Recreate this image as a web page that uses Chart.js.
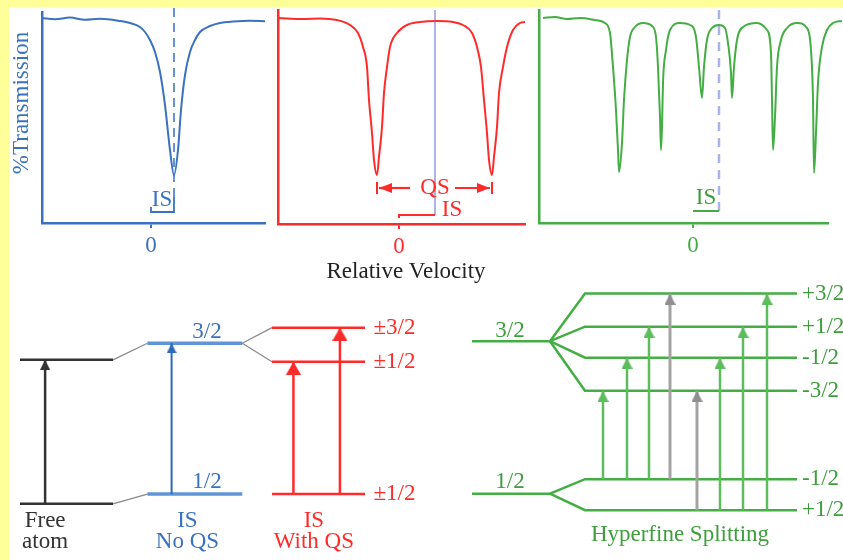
<!DOCTYPE html>
<html>
<head>
<meta charset="utf-8">
<script src="https://cdn.jsdelivr.net/npm/chart.js@4.4.1/dist/chart.umd.min.js"></script>
<style>
html,body{margin:0;padding:0;background:#ffff99;}
#stage{position:relative;width:843px;height:560px;overflow:hidden;background:#ffff99;}
#paper{position:absolute;left:9px;top:7px;right:0;bottom:0;background:#ffffff;}
canvas{position:absolute;left:0;top:0;}
</style>
</head>
<body>
<div id="stage">
  <div id="paper"></div>
  <canvas id="specBlue" width="843" height="560"></canvas>
  <canvas id="specRed" width="843" height="560"></canvas>
  <canvas id="specGreen" width="843" height="560"></canvas>
  <canvas id="levelsLeft" width="843" height="560"></canvas>
  <canvas id="levelsRight" width="843" height="560"></canvas>
</div>
<script>
// ---------------- DATA ----------------
// velocity (arbitrary mm/s-like units) and % transmission
const blueVelocity = [-5.45,-4.8,-4.05,-3.3,-2.55,-1.55,-1.05,-0.55,-0.3,-0.05,0.2,0.45,0.7,0.95,1.15,1.35,1.5,1.7,1.95,2.2,2.45,2.95,3.45,4.1,4.95,5.7];
const blueTransmission = [100,99.4,100.2,99.1,99.6,98.5,97.5,95.5,93,89,83,73,56.5,34,21.5,34,54,71.5,83,89,93,96,97.5,98.2,98.6,98.4];

const redVelocity = [-6.05,-5.4,-4.8,-3.95,-3.1,-2.45,-2.05,-1.8,-1.6,-1.5,-1.35,-1.25,-1.1,-1.0,-0.85,-0.75,-0.6,-0.45,-0.1,0.4,1.05,1.9,2.7,3.2,3.65,3.9,4.1,4.25,4.4,4.5,4.65,4.75,4.9,5.0,5.2,5.4,5.7,6.05,6.3];
const redTransmission = [100,99.6,99.5,99.8,99,96.5,92.5,85.5,75.5,59,42.5,29,21.5,30.5,45.5,62.5,75.5,85.5,92.5,96.5,98,98.5,98,96.5,92.5,85.5,75.5,59,42.5,29,21.5,30.5,45.5,62.5,75.5,85.5,94,97.5,98];

const greenVelocity = [-7.5,-6.9,-6.3,-5.65,-4.9,-4.4,-4.15,-4.0,-3.85,-3.75,-3.7,-3.55,-3.45,-3.3,-3.15,-2.9,-2.5,-2.05,-1.85,-1.75,-1.65,-1.6,-1.55,-1.5,-1.35,-1.15,-0.65,-0.15,0.15,0.3,0.45,0.55,0.7,0.95,1.3,1.6,1.75,1.9,1.95,2.05,2.2,2.5,3.2,3.7,3.9,3.95,4.0,4.1,4.2,4.4,4.7,5.2,5.7,5.9,6.0,6.05,6.15,6.25,6.45,6.7,7.0,7.45];
const greenTransmission = [100,100.5,99.5,100,99,97.5,92.5,75.5,54,34,23,37.5,59,79,90.5,95.5,97.5,96,90.5,75.5,50.5,34,45.5,67.5,84,94,97.5,96.5,90.5,75.5,60,75.5,89,95,96.5,95,87.5,72.5,60,75.5,89,95.5,97.5,94,82.5,59,34,50.5,75.5,89,95,97.5,95,84,59,22.5,42.5,67.5,85.5,94,97.5,98.5];

const velocityTicks = [0];
const tickLabels = ['0'];

// isomer shifts / quadrupole splitting (velocity units)
const isomerShift = [1.15, 1.8, 1.3];          // blue, red, green panels
const quadrupoleLines = [-1.1, 4.65];          // red doublet positions

// energy levels (arbitrary energy units)
const freeAtomLevels = [0, 14.8];              // ground, excited
const noQSLevels = [1.0, 16.5];                // 1/2, 3/2
const noQSLabels = ['1/2', '3/2'];
const withQSLevels = [1.0, 14.6, 18.1];        // ground ±1/2, excited ±1/2, excited ±3/2
const withQSLabels = ['±1/2', '±1/2', '±3/2'];
const hfUnsplitLevels = [16.7, 1.0];           // 3/2, 1/2
const hfUnsplitLabels = ['3/2', '1/2'];
const hfExcitedLevels = [21.6, 18.2, 15.0, 11.6];
const hfExcitedLabels = ['+3/2', '+1/2', '-1/2', '-3/2'];
const hfGroundLevels = [2.5, -0.7];
const hfGroundLabels = ['-1/2', '+1/2'];
const hfTransitionFrom = [0, 0, 0, 0, 1, 1, 1, 1];   // index into hfGroundLevels
const hfTransitionTo = [3, 2, 1, 0, 3, 2, 1, 0];     // index into hfExcitedLevels
const hfTransitionAllowed = [true, true, true, false, false, true, true, true];

// ---------------- STYLE / LAYOUT ----------------
const FONT = '"Liberation Serif","Times New Roman",serif';
const FS = 23;
const BLUE = '#3a72c0', BLUE_LEVEL = '#5f95d6';
const RED = '#ff2b2b';
const GREEN = '#44ad44', GREEN_LIGHT = '#5cbd5c', GREEN_TEXT = '#3e9e3e';
const GRAY = '#a3a3a3', CONNECT = '#8a8a8a', BLACK = '#333333';
const LAVENDER = '#aab4e8';
const W = 843, H = 560;

function arrowHead(color, width, length) {
  const c = document.createElement('canvas');
  c.width = width; c.height = length * 2;
  const g = c.getContext('2d');
  g.fillStyle = color;
  g.beginPath();
  g.moveTo(width / 2, length);
  g.lineTo(width, length * 2);
  g.lineTo(0, length * 2);
  g.closePath();
  g.fill();
  return c;
}

const textPlugin = {
  id: 'textMarks',
  afterDatasetsDraw(chart, args, opts) {
    const items = opts.items || [];
    const ctx = chart.ctx;
    const xs = chart.scales.x, ys = chart.scales.y;
    items.forEach(it => {
      const px = xs.getPixelForValue(it.x), py = ys.getPixelForValue(it.y);
      ctx.save();
      ctx.font = (it.size || FS) + 'px ' + FONT;
      ctx.fillStyle = it.color;
      ctx.textAlign = it.align || 'center';
      ctx.textBaseline = 'middle';
      ctx.translate(px, py);
      if (it.rotation) ctx.rotate(it.rotation * Math.PI / 180);
      ctx.fillText(it.text, 0, 0);
      ctx.restore();
    });
  }
};

function fixed(min, max) { return s => { s.min = min; s.max = max; }; }

function seg(x1, y1, x2, y2, color, width, extra) {
  return Object.assign({
    data: [{x: x1, y: y1}, {x: x2, y: y2}],
    borderColor: color, borderWidth: width, pointRadius: 0,
    tension: 0, clip: false, borderCapStyle: 'butt'
  }, extra || {});
}
function poly(points, color, width, extra) {
  return Object.assign({
    data: points, borderColor: color, borderWidth: width, pointRadius: 0,
    tension: 0, clip: false
  }, extra || {});
}
function arrow(x, y1, y2, color, width, head) {
  return seg(x, y1, x, y2, color, width, {
    pointStyle: head, pointRadius: [0, 5], pointRotation: 0
  });
}
function hArrow(x1, x2, y, color, width, head, dir) {
  return seg(x1, y, x2, y, color, width, {
    pointStyle: head, pointRadius: [0, 5], pointRotation: dir
  });
}

const AXIS_H = 40;
function spectrum(id, p) {
  const bottomPad = H - p.bottom - p.axisH;
  return new Chart(document.getElementById(id), {
    type: 'line',
    data: { datasets: p.datasets },
    options: {
      responsive: false, animation: false, events: [],
      layout: { padding: { left: p.left, right: W - p.right, top: p.top, bottom: bottomPad } },
      scales: {
        x: {
          type: 'linear', bounds: 'data',
          afterDataLimits: fixed(p.xmin, p.xmax),
          afterBuildTicks: s => { s.ticks = velocityTicks.map(v => ({value: v})); },
          afterFit: s => { s.height = p.axisH; },
          ticks: { color: p.color, font: {family: FONT, size: FS}, padding: 4,
                   callback: (v, i) => tickLabels[i], maxRotation: 0, autoSkip: false },
          grid: { display: true, drawOnChartArea: false, drawTicks: true, tickLength: 5, color: p.color, lineWidth: 2 },
          border: { display: true, color: p.color, width: 2.5 }
        },
        y: {
          type: 'linear', bounds: 'data',
          afterDataLimits: fixed(p.ymin, p.ymax),
          afterFit: s => { s.width = 0; },
          ticks: { display: false }, grid: { display: false },
          border: { display: true, color: p.color, width: 2.5 }
        }
      },
      plugins: { legend: {display: false}, tooltip: {enabled: false}, textMarks: { items: p.texts } }
    },
    plugins: [textPlugin]
  });
}

function curve(vel, trans, color) {
  return {
    data: vel.map((v, i) => ({x: v, y: trans[i]})),
    borderColor: color, borderWidth: 2, pointRadius: 0,
    cubicInterpolationMode: 'monotone', clip: false
  };
}

// ---- Blue: single line (isomer shift only)
spectrum('specBlue', {
  left: 42, right: 265, top: 12, bottom: 223, axisH: AXIS_H,
  xmin: -5.45, xmax: 5.7, ymin: -2.5, ymax: 103, color: BLUE,
  datasets: [
    curve(blueVelocity, blueTransmission, BLUE),
    seg(isomerShift[0], 105, isomerShift[0], 10.5, BLUE, 1.5, {borderDash: [9, 6]}),
    poly([{x: 0, y: 5.5}, {x: 0, y: 3}, {x: isomerShift[0], y: 3}, {x: isomerShift[0], y: 10.5}], BLUE, 1.8)
  ],
  texts: [
    {x: 0.55, y: 9, text: 'IS', color: BLUE},
    {x: -6.45, y: 57.5, text: '%Transmission', color: BLUE, rotation: -90}
  ]
});

// ---- Red: quadrupole doublet
const qsHead = arrowHead(RED, 10, 13);
spectrum('specRed', {
  left: 278, right: 525, top: 10, bottom: 224, axisH: 61,
  xmin: -6.05, xmax: 6.3, ymin: -3, ymax: 104, color: RED,
  datasets: [
    hArrow(0.55, -1.0, 15, RED, 2.2, qsHead, -90),
    hArrow(2.8, 4.55, 15, RED, 2.2, qsHead, 90),
    seg(quadrupoleLines[0], 18, quadrupoleLines[0], 12, RED, 2),
    seg(quadrupoleLines[1], 18, quadrupoleLines[1], 12, RED, 2),
    poly([{x: 0, y: 0}, {x: 0, y: 1.5}, {x: isomerShift[1], y: 1.5}], RED, 2),
    curve(redVelocity, redTransmission, RED),
    seg(isomerShift[1], 104, isomerShift[1], 1.5, LAVENDER, 2)
  ],
  texts: [
    {x: 1.8, y: 15, text: 'QS', color: RED},
    {x: 2.65, y: 4, text: 'IS', color: RED},
    {x: 0.35, y: -27, text: 'Relative Velocity', color: '#222222'}
  ]
});

// ---- Green: magnetic sextet
spectrum('specGreen', {
  left: 539, right: 828, top: 10, bottom: 223, axisH: AXIS_H,
  xmin: -7.7, xmax: 6.75, ymin: -2.5, ymax: 104, color: GREEN,
  datasets: [
    curve(greenVelocity, greenTransmission, GREEN),
    seg(0, 3.5, isomerShift[2], 3.5, GREEN, 2),
    seg(isomerShift[2], 104, isomerShift[2], 3.5, LAVENDER, 2.5, {borderDash: [9, 7]})
  ],
  texts: [
    {x: 0.65, y: 10, text: 'IS', color: GREEN_TEXT}
  ]
});

// ---- Bottom left: free atom / IS no QS / IS with QS
const COL_FREE = [0, 1], COL_NOQS = [1.37, 2.39], COL_WQS = [2.71, 3.71];
const headBlack = arrowHead(BLACK, 10, 10);
const headBlue = arrowHead('#2f68b8', 10, 10);
const headRed = arrowHead(RED, 15, 13);
const LBL_OFF = 1.2;

function levelChart(id, p) {
  return new Chart(document.getElementById(id), {
    type: 'line',
    data: { datasets: p.datasets },
    options: {
      responsive: false, animation: false, events: [],
      layout: { padding: { left: p.left, right: W - p.right, top: p.top, bottom: H - p.bottom } },
      scales: {
        x: { type: 'linear', display: false, bounds: 'data', afterDataLimits: fixed(p.xmin, p.xmax) },
        y: { type: 'linear', display: false, bounds: 'data', afterDataLimits: fixed(p.ymin, p.ymax) }
      },
      plugins: { legend: {display: false}, tooltip: {enabled: false}, textMarks: { items: p.texts } }
    },
    plugins: [textPlugin]
  });
}

levelChart('levelsLeft', {
  left: 20, right: 392, top: 280, bottom: 560,
  xmin: 0, xmax: 4, ymin: -5, ymax: 23,
  datasets: [
    arrow(0.27, freeAtomLevels[0], freeAtomLevels[1], BLACK, 2.5, headBlack),
    arrow(1.63, noQSLevels[0], noQSLevels[1], '#2f68b8', 2, headBlue),
    arrow(2.94, withQSLevels[0], withQSLevels[1], RED, 2.5, headRed),
    arrow(3.44, withQSLevels[0], withQSLevels[2], RED, 2.5, headRed),
    seg(COL_FREE[0], freeAtomLevels[0], COL_FREE[1], freeAtomLevels[0], BLACK, 2.5),
    seg(COL_FREE[0], freeAtomLevels[1], COL_FREE[1], freeAtomLevels[1], BLACK, 2.5),
    seg(COL_NOQS[0], noQSLevels[0], COL_NOQS[1], noQSLevels[0], BLUE_LEVEL, 3.5),
    seg(COL_NOQS[0], noQSLevels[1], COL_NOQS[1], noQSLevels[1], BLUE_LEVEL, 3.5),
    ...withQSLevels.map(e => seg(COL_WQS[0], e, COL_WQS[1], e, RED, 2.5)),
    seg(COL_FREE[1], freeAtomLevels[0], COL_NOQS[0], noQSLevels[0], CONNECT, 1.3),
    seg(COL_FREE[1], freeAtomLevels[1], COL_NOQS[0], noQSLevels[1], CONNECT, 1.3),
    seg(COL_NOQS[1], noQSLevels[1], COL_WQS[0], withQSLevels[2], CONNECT, 1.3),
    seg(COL_NOQS[1], noQSLevels[1], COL_WQS[0], withQSLevels[1], CONNECT, 1.3)
  ],
  texts: [
    {x: 2.01, y: noQSLevels[1] + LBL_OFF, text: noQSLabels[1], color: BLUE},
    {x: 2.01, y: noQSLevels[0] + LBL_OFF, text: noQSLabels[0], color: BLUE},
    ...withQSLevels.map((e, i) => ({x: 3.8, y: e, text: withQSLabels[i], color: RED, align: 'left'})),
    {x: 0.27, y: -1.8, text: 'Free', color: BLACK},
    {x: 0.27, y: -3.9, text: 'atom', color: BLACK},
    {x: 1.8, y: -1.8, text: 'IS', color: BLUE},
    {x: 1.8, y: -3.9, text: 'No QS', color: BLUE},
    {x: 3.16, y: -1.8, text: 'IS', color: RED},
    {x: 3.16, y: -3.9, text: 'With QS', color: RED}
  ]
});

// ---- Bottom right: hyperfine splitting
const HF_UNSPLIT = [0, 3.12], HF_BRANCH = 4.52, HF_END = 13;
const HF_ARROW_X = [5.24, 6.2, 7.08, 7.92, 9.0, 9.92, 10.84, 11.8];
const headGreen = arrowHead(GREEN_LIGHT, 11, 11);
const headGray = arrowHead('#8f8f8f', 11, 11);

levelChart('levelsRight', {
  left: 472, right: 797, top: 280, bottom: 560,
  xmin: 0, xmax: 13, ymin: -5, ymax: 23,
  datasets: [
    ...HF_ARROW_X.map((x, i) => arrow(x, hfGroundLevels[hfTransitionFrom[i]], hfExcitedLevels[hfTransitionTo[i]],
        hfTransitionAllowed[i] ? GREEN_LIGHT : GRAY, hfTransitionAllowed[i] ? 2.5 : 3,
        hfTransitionAllowed[i] ? headGreen : headGray)),
    seg(HF_UNSPLIT[0], hfUnsplitLevels[0], HF_UNSPLIT[1], hfUnsplitLevels[0], GREEN, 2.5),
    seg(HF_UNSPLIT[0], hfUnsplitLevels[1], HF_UNSPLIT[1], hfUnsplitLevels[1], GREEN, 2.5),
    ...hfExcitedLevels.map(e => poly([{x: HF_UNSPLIT[1], y: hfUnsplitLevels[0]}, {x: HF_BRANCH, y: e}, {x: HF_END, y: e}], GREEN, 2.5)),
    ...hfGroundLevels.map(e => poly([{x: HF_UNSPLIT[1], y: hfUnsplitLevels[1]}, {x: HF_BRANCH, y: e}, {x: HF_END, y: e}], GREEN, 2.5))
  ],
  texts: [
    {x: 1.52, y: hfUnsplitLevels[0] + 1.1, text: hfUnsplitLabels[0], color: GREEN_TEXT},
    {x: 1.52, y: hfUnsplitLevels[1] + 1.2, text: hfUnsplitLabels[1], color: GREEN_TEXT},
    ...hfExcitedLevels.map((e, i) => ({x: 13.2, y: e, text: hfExcitedLabels[i], color: GREEN_TEXT, align: 'left'})),
    ...hfGroundLevels.map((e, i) => ({x: 13.2, y: e, text: hfGroundLabels[i], color: GREEN_TEXT, align: 'left'})),
    {x: 8.32, y: -3.2, text: 'Hyperfine Splitting', color: GREEN_TEXT}
  ]
});
</script>
</body>
</html>
